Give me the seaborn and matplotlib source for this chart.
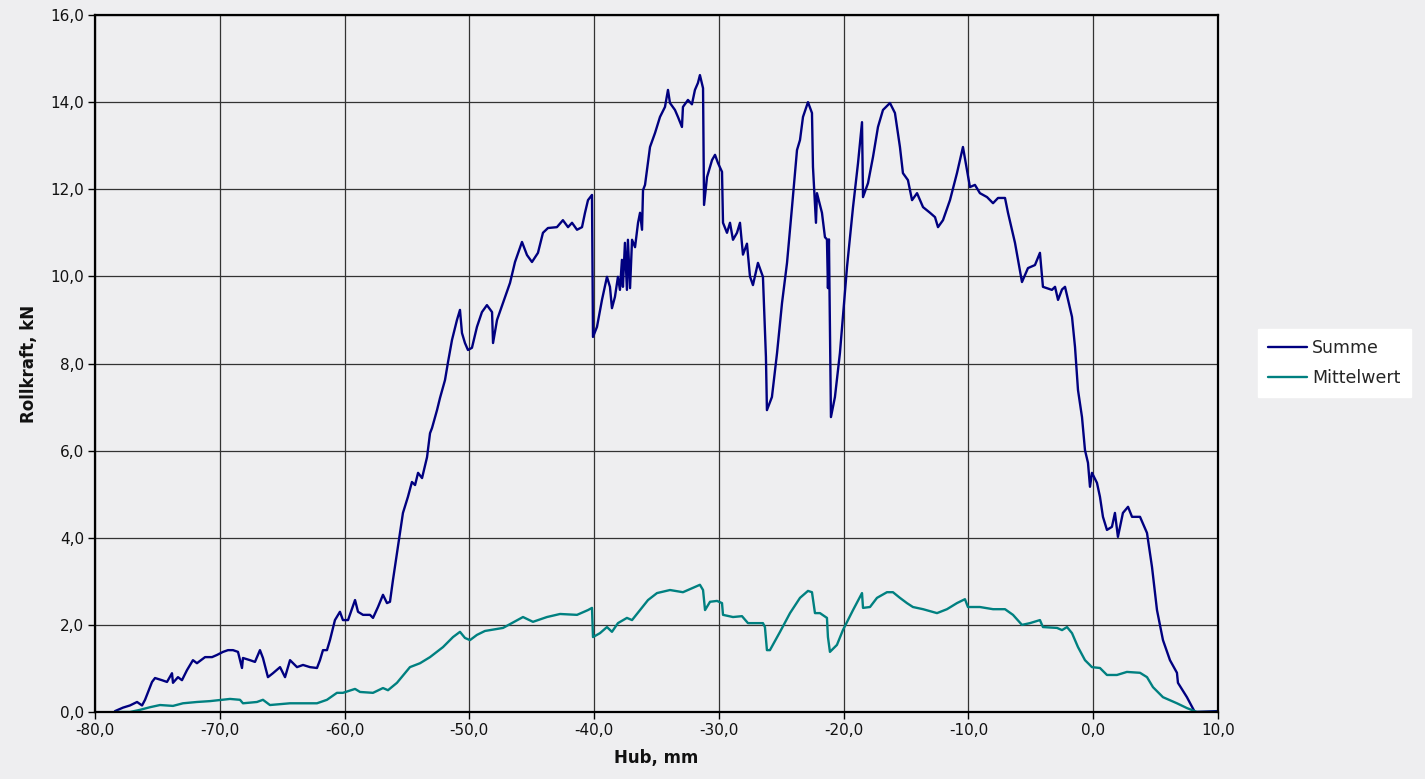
import numpy as np
import pandas as pd
import matplotlib
matplotlib.use("Agg")
import matplotlib.pyplot as plt
from matplotlib.ticker import FuncFormatter, MultipleLocator
from matplotlib.lines import Line2D
import seaborn as sns

# ---- data ----
summe_x = [-78.40, -77.76, -77.20, -76.63, -76.23, -75.99, -75.43, -75.19, -74.63, -74.23,
           -73.83, -73.75, -73.35, -73.03, -72.63, -72.15, -71.83, -71.18, -70.62, -70.22,
           -69.74, -69.34, -68.94, -68.54, -68.22, -68.14, -67.58, -67.18, -66.78, -66.54,
           -66.14, -65.74, -65.17, -64.77, -64.37, -63.81, -63.33, -62.77, -62.21, -61.97,
           -61.73, -61.41, -61.17, -60.77, -60.37, -60.13, -59.72, -59.16, -58.92, -58.52,
           -57.96, -57.72, -57.32, -56.92, -56.60, -56.36, -56.12, -55.80, -55.56, -55.32,
           -54.92, -54.60, -54.35, -54.11, -53.79, -53.39, -53.15, -52.99, -52.59, -52.35,
           -51.95, -51.71, -51.39, -50.99, -50.75, -50.59, -50.35, -50.11, -49.79, -49.39,
           -48.99, -48.59, -48.18, -48.10, -47.78, -47.30, -46.74, -46.34, -45.78, -45.38,
           -44.98, -44.50, -44.10, -43.70, -42.98, -42.50, -42.09, -41.77, -41.37, -40.97,
           -40.73, -40.49, -40.17, -40.09, -39.77, -39.37, -38.97, -38.73, -38.57, -38.33,
           -38.09, -37.93, -37.77, -37.69, -37.53, -37.37, -37.29, -37.12, -36.96, -36.72,
           -36.48, -36.32, -36.16, -36.08, -35.92, -35.52, -35.12, -34.72, -34.32, -34.08,
           -33.92, -33.52, -33.28, -32.96, -32.88, -32.48, -32.16, -31.92, -31.68, -31.52,
           -31.27, -31.19, -30.95, -30.55, -30.31, -30.07, -29.75, -29.67, -29.35, -29.11,
           -28.87, -28.55, -28.31, -28.07, -27.75, -27.51, -27.27, -26.87, -26.47, -26.23,
           -26.15, -25.75, -25.34, -24.94, -24.54, -24.14, -23.74, -23.50, -23.26, -22.86,
           -22.54, -22.46, -22.22, -22.14, -21.74, -21.50, -21.34, -21.26, -21.18, -21.02,
           -20.70, -20.30, -19.73, -19.25, -18.85, -18.53, -18.45, -18.05, -17.65, -17.25,
           -16.85, -16.29, -15.89, -15.49, -15.25, -14.85, -14.52, -14.12, -13.64, -13.08,
           -12.68, -12.44, -12.04, -11.48, -10.92, -10.44, -10.12, -9.88, -9.48, -9.08,
           -8.51, -8.03, -7.63, -7.07, -6.83, -6.27, -5.71, -5.23, -4.67, -4.27,
           -4.03, -3.31, -3.06, -2.82, -2.50, -2.26, -2.02, -1.70, -1.46, -1.22,
           -0.90, -0.66, -0.42, -0.26, -0.10, 0.30, 0.54, 0.78, 1.10, 1.50,
           1.74, 1.98, 2.38, 2.79, 3.11, 3.75, 4.31, 4.71, 5.11, 5.59,
           6.15, 6.71, 6.79, 7.51, 8.14, 9.90]
summe_y = [0.02, 0.10, 0.15, 0.23, 0.15, 0.28, 0.69, 0.78, 0.73, 0.69,
           0.89, 0.67, 0.80, 0.73, 0.96, 1.19, 1.12, 1.26, 1.26, 1.31,
           1.38, 1.42, 1.42, 1.38, 1.01, 1.24, 1.19, 1.15, 1.42, 1.24,
           0.80, 0.89, 1.03, 0.80, 1.19, 1.03, 1.08, 1.03, 1.01, 1.19,
           1.42, 1.42, 1.65, 2.11, 2.30, 2.11, 2.11, 2.57, 2.30, 2.23,
           2.23, 2.16, 2.41, 2.69, 2.50, 2.53, 3.03, 3.65, 4.10, 4.57,
           4.94, 5.28, 5.21, 5.49, 5.37, 5.85, 6.40, 6.52, 6.93, 7.21,
           7.62, 8.03, 8.54, 9.00, 9.23, 8.70, 8.47, 8.31, 8.36, 8.84,
           9.18, 9.34, 9.18, 8.47, 9.00, 9.39, 9.85, 10.33, 10.79, 10.49,
           10.33, 10.54, 11.00, 11.11, 11.13, 11.29, 11.13, 11.23, 11.07, 11.13,
           11.46, 11.75, 11.87, 8.61, 8.84, 9.46, 9.99, 9.76, 9.27, 9.53,
           9.99, 9.69, 10.38, 9.76, 10.77, 9.69, 10.84, 9.73, 10.84, 10.67,
           11.23, 11.46, 11.07, 11.98, 12.10, 12.97, 13.29, 13.66, 13.89, 14.28,
           13.98, 13.82, 13.66, 13.43, 13.89, 14.05, 13.95, 14.28, 14.44, 14.62,
           14.32, 11.64, 12.28, 12.67, 12.79, 12.60, 12.40, 11.23, 11.00, 11.23,
           10.84, 11.00, 11.23, 10.50, 10.75, 10.00, 9.80, 10.31, 9.99, 8.15,
           6.93, 7.23, 8.24, 9.39, 10.31, 11.59, 12.90, 13.13, 13.66, 14.00,
           13.75, 12.51, 11.23, 11.91, 11.46, 10.90, 10.85, 9.73, 10.85, 6.77,
           7.23, 8.24, 10.22, 11.59, 12.60, 13.54, 11.82, 12.14, 12.74, 13.43,
           13.82, 13.98, 13.75, 12.97, 12.37, 12.21, 11.75, 11.91, 11.59, 11.46,
           11.36, 11.13, 11.29, 11.75, 12.37, 12.97, 12.44, 12.05, 12.10, 11.91,
           11.82, 11.68, 11.80, 11.80, 11.46, 10.77, 9.87, 10.19, 10.26, 10.54,
           9.76, 9.69, 9.76, 9.46, 9.70, 9.76, 9.46, 9.07, 8.38, 7.39,
           6.77, 6.01, 5.72, 5.17, 5.49, 5.26, 4.94, 4.48, 4.18, 4.25,
           4.57, 4.02, 4.57, 4.71, 4.48, 4.48, 4.11, 3.33, 2.34, 1.65,
           1.19, 0.90, 0.67, 0.34, 0.00, 0.02]

mittel_x = [-78.40, -77.20, -76.39, -75.59, -74.79, -73.75, -72.95, -71.83, -70.78, -69.18,
            -68.38, -68.14, -67.02, -66.54, -65.98, -65.17, -64.37, -63.33, -62.21, -61.41,
            -60.61, -60.13, -59.16, -58.76, -57.72, -56.92, -56.52, -55.80, -54.76, -53.95,
            -53.15, -52.11, -51.31, -50.75, -50.35, -49.95, -49.39, -48.75, -47.30, -45.70,
            -44.90, -43.78, -42.73, -41.37, -40.49, -40.17, -40.09, -39.53, -38.97, -38.57,
            -38.09, -37.37, -36.96, -36.32, -35.68, -34.96, -33.92, -32.88, -32.08, -31.52,
            -31.27, -31.11, -30.71, -30.15, -29.75, -29.67, -28.87, -28.15, -27.67, -26.47,
            -26.31, -26.15, -25.91, -25.10, -24.30, -23.50, -22.86, -22.54, -22.30, -21.90,
            -21.34, -21.26, -21.10, -20.54, -20.06, -19.25, -18.53, -18.45, -17.89, -17.33,
            -16.53, -16.05, -15.49, -14.93, -14.45, -13.64, -12.52, -11.72, -10.92, -10.28,
            -10.04, -9.08, -8.03, -7.07, -6.43, -5.71, -5.07, -4.27, -4.03, -2.90,
            -2.50, -2.10, -1.70, -1.22, -0.66, -0.10, 0.54, 1.10, 1.90, 2.70,
            3.75, 4.31, 4.79, 5.59, 6.71, 7.51, 8.31, 9.90]
mittel_y = [0.00, 0.00, 0.05, 0.11, 0.16, 0.14, 0.20, 0.23, 0.25, 0.30,
            0.28, 0.20, 0.23, 0.28, 0.16, 0.18, 0.20, 0.20, 0.20, 0.28,
            0.44, 0.44, 0.53, 0.46, 0.44, 0.55, 0.50, 0.67, 1.03, 1.12,
            1.26, 1.49, 1.72, 1.84, 1.70, 1.65, 1.77, 1.86, 1.93, 2.18,
            2.07, 2.18, 2.25, 2.23, 2.34, 2.39, 1.72, 1.81, 1.95, 1.84,
            2.04, 2.16, 2.11, 2.34, 2.57, 2.73, 2.80, 2.75, 2.85, 2.92,
            2.80, 2.34, 2.53, 2.55, 2.50, 2.23, 2.18, 2.20, 2.04, 2.04,
            1.95, 1.42, 1.42, 1.84, 2.27, 2.62, 2.78, 2.75, 2.27, 2.27,
            2.16, 1.72, 1.38, 1.54, 1.88, 2.34, 2.73, 2.39, 2.41, 2.62,
            2.75, 2.75, 2.62, 2.50, 2.41, 2.36, 2.27, 2.36, 2.50, 2.59,
            2.41, 2.41, 2.36, 2.36, 2.23, 2.00, 2.04, 2.11, 1.95, 1.93,
            1.88, 1.95, 1.81, 1.49, 1.19, 1.03, 1.01, 0.85, 0.85, 0.92,
            0.90, 0.80, 0.57, 0.34, 0.20, 0.09, 0.00, 0.00]

series_names = ["Summe", "Mittelwert"]
series_colors = ["#000080", "#008080"]
x_label = "Hub, mm"
y_label = "Rollkraft, kN"

# ---- figure ----
sns.set_theme(style="white")
plt.rcParams["font.family"] = ["DejaVu Sans"]

bg = "#eeeef0"
fig = plt.figure(figsize=(14.25, 7.79), dpi=100, facecolor=bg)
ax = fig.add_axes([95 / 1425, 1 - 712 / 779, (1218 - 95) / 1425, (712 - 15) / 779])
ax.set_facecolor(bg)

df_s = pd.DataFrame({"x": summe_x, "y": summe_y, "Serie": series_names[0]})
df_m = pd.DataFrame({"x": mittel_x, "y": mittel_y, "Serie": series_names[1]})
df = pd.concat([df_s, df_m], ignore_index=True)

sns.lineplot(data=df, x="x", y="y", hue="Serie", palette=series_colors,
             estimator=None, sort=False, linewidth=1.7, ax=ax, legend=False)

ax.set_xlim(-80, 10)
ax.set_ylim(0, 16)
ax.xaxis.set_major_locator(MultipleLocator(10))
ax.yaxis.set_major_locator(MultipleLocator(2))
fmt = FuncFormatter(lambda v, p: f"{v:.1f}".replace(".", ","))
ax.xaxis.set_major_formatter(fmt)
ax.yaxis.set_major_formatter(fmt)

ax.grid(True, color="#333333", linewidth=0.9)
ax.set_axisbelow(True)
for s in ax.spines.values():
    s.set_color("black")
    s.set_linewidth(1.6)
    s.set_visible(True)

ax.tick_params(axis="both", which="major", direction="out", length=5, width=1,
               color="black", labelsize=11, labelcolor="#111111", pad=3,
               left=True, bottom=True)

ax.set_xlabel(x_label, fontsize=12, fontweight="bold", labelpad=8, color="#111111")
ax.set_ylabel(y_label, fontsize=12, fontweight="bold", labelpad=9, color="#111111")

handles = [Line2D([0], [0], color=c, linewidth=1.7) for c in series_colors]
leg = fig.legend(handles, series_names, loc="upper left",
                 bbox_to_anchor=(1258 / 1425, 1 - 329 / 779),
                 frameon=True, fancybox=False, facecolor="white", edgecolor="white",
                 framealpha=1, fontsize=12.5, handlelength=2.2, handletextpad=0.3,
                 borderpad=0.6, labelspacing=0.65, borderaxespad=0)

fig.savefig("out.png", dpi=100, facecolor=bg)
